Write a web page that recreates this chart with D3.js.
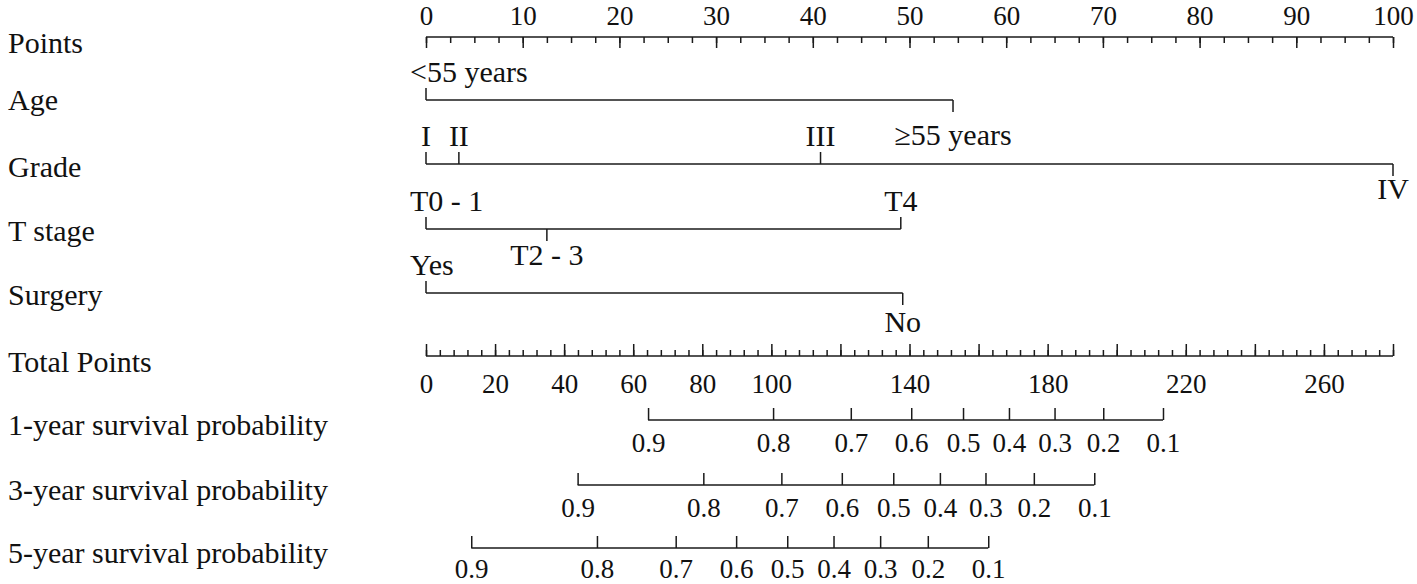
<!DOCTYPE html>
<html>
<head>
<meta charset="utf-8">
<script src="https://cdn.jsdelivr.net/npm/d3@7/dist/d3.min.js"></script>
<style>
  html, body { margin: 0; padding: 0; background: #fff; }
  svg text { font-family: "Liberation Serif", "Times New Roman", serif; fill: #111; }
</style>
</head>
<body>
<svg id="chart" width="1417" height="584"></svg>
<script>
// ---------------- DATA ----------------
const rowLabels = ["Points", "Age", "Grade", "T stage", "Surgery", "Total Points",
  "1-year survival probability", "3-year survival probability", "5-year survival probability"];

const pointsDomain = [0, 100];
const pointsLabelTicks = [0, 10, 20, 30, 40, 50, 60, 70, 80, 90, 100];

const ageLevels = ["<55 years", "≥55 years"];
const agePoints = [0, 54.5];

const gradeLevels = ["I", "II", "III", "IV"];
const gradePoints = [0, 3.4, 40.8, 100];

const tLevels = ["T0 - 1", "T2 - 3", "T4"];
const tPoints = [0, 12.5, 49.1];

const surgeryLevels = ["Yes", "No"];
const surgeryPoints = [0, 49.3];

const totalDomain = [0, 280];
const totalLabelTicks = [0, 20, 40, 60, 80, 100, 140, 180, 220, 260];

const probLabels = ["0.9", "0.8", "0.7", "0.6", "0.5", "0.4", "0.3", "0.2", "0.1"];
const surv1Total = [64.3, 100.5, 123.0, 140.5, 155.5, 168.8, 182.0, 196.1, 213.4];
const surv3Total = [43.9, 80.3, 102.9, 120.4, 135.3, 148.8, 162.0, 176.0, 193.5];
const surv5Total = [13.1, 49.5, 72.3, 89.8, 104.6, 118.0, 131.5, 145.3, 162.8];

// ---------------- LAYOUT ----------------
const svg = d3.select("#chart");
const X0 = 426, X1 = 1393;
const xPts = d3.scaleLinear().domain(pointsDomain).range([X0, X1]);
const xTot = d3.scaleLinear().domain(totalDomain).range([X0, X1]);
const STROKE = "#1a1a1a", SW = 1.5;
const TICK_FS = 27, ROW_FS = 30, LEVEL_FS = 30;

const lineY = [37, 100, 164, 229, 293, 356, 420, 485, 548];
const rowLabelY = [53, 110, 177, 241, 305, 372, 435, 500, 563];
const probLabelOff = [32, 32, 30];

// row labels
svg.append("g").selectAll("text").data(rowLabels).join("text")
  .attr("x", 8).attr("y", (d, i) => rowLabelY[i])
  .attr("font-size", ROW_FS).text(d => d);

function styleAxis(g) {
  g.attr("font-family", null).attr("font-size", null);
  g.selectAll("line").attr("stroke", STROKE).attr("stroke-width", SW);
  g.selectAll("path.domain").attr("stroke", STROKE).attr("stroke-width", SW);
  g.selectAll("text").attr("font-size", TICK_FS).attr("fill", "#111");
}

// ---- Points axis (ticks downward, labels above)
const ptsMinor = svg.append("g").attr("transform", `translate(0,${lineY[0]})`)
  .call(d3.axisTop(xPts).tickValues(d3.range(0, 100.01, 2.5)).tickSize(-6).tickSizeOuter(0).tickFormat(""));
ptsMinor.select(".domain").remove();
ptsMinor.selectAll("text").remove();
const ptsMajor = svg.append("g").attr("transform", `translate(0,${lineY[0]})`)
  .call(d3.axisTop(xPts).tickValues(pointsLabelTicks).tickSize(-11).tickSizeOuter(0));
ptsMajor.select(".domain").remove();
ptsMajor.selectAll("text").attr("y", -12).attr("dy", 0);
svg.append("line").attr("x1", xPts(0)).attr("x2", xPts(100)).attr("y1", lineY[0]).attr("y2", lineY[0])
  .attr("stroke", STROKE).attr("stroke-width", SW);
styleAxis(ptsMinor); styleAxis(ptsMajor);

// ---- Categorical predictors
const predictors = [
  { levels: ageLevels, pts: agePoints, row: 1, side: [-1, 1], belowOff: 45 },
  { levels: gradeLevels, pts: gradePoints, row: 2, side: [-1, -1, -1, 1], belowOff: 35 },
  { levels: tLevels, pts: tPoints, row: 3, side: [-1, 1, -1], belowOff: 36 },
  { levels: surgeryLevels, pts: surgeryPoints, row: 4, side: [-1, 1], belowOff: 39 }
];
const TL = 12;
predictors.forEach(p => {
  const y = lineY[p.row];
  const g = svg.append("g");
  g.append("line").attr("x1", xPts(d3.min(p.pts))).attr("x2", xPts(d3.max(p.pts)))
    .attr("y1", y).attr("y2", y).attr("stroke", STROKE).attr("stroke-width", SW);
  p.levels.forEach((lev, i) => {
    const x = xPts(p.pts[i]);
    const s = p.side[i];
    g.append("line").attr("x1", x).attr("x2", x).attr("y1", y).attr("y2", y + s * TL)
      .attr("stroke", STROKE).attr("stroke-width", SW);
    const t = g.append("text").attr("font-size", LEVEL_FS)
      .attr("y", s < 0 ? y - 18 : y + p.belowOff).text(lev);
    const w = t.node().getComputedTextLength();
    const left = Math.max(x - w / 2, X0 - 16);
    t.attr("x", left);
  });
});

// ---- Total points axis (ticks upward, labels below)
const totMinor = svg.append("g").attr("transform", `translate(0,${lineY[5]})`)
  .call(d3.axisBottom(xTot).tickValues(d3.range(0, 280.01, 4)).tickSize(-6).tickSizeOuter(0).tickFormat(""));
totMinor.select(".domain").remove();
totMinor.selectAll("text").remove();
const totMajor = svg.append("g").attr("transform", `translate(0,${lineY[5]})`)
  .call(d3.axisBottom(xTot).tickValues(d3.range(0, 280.01, 20)).tickSize(-12).tickSizeOuter(0)
    .tickFormat(d => totalLabelTicks.includes(d) ? d : ""));
totMajor.select(".domain").remove();
totMajor.selectAll("text").filter(function () { return this.textContent === ""; }).remove();
totMajor.selectAll("text").attr("y", 37).attr("dy", 0);
svg.append("line").attr("x1", xTot(0)).attr("x2", xTot(280)).attr("y1", lineY[5]).attr("y2", lineY[5])
  .attr("stroke", STROKE).attr("stroke-width", SW);
styleAxis(totMinor); styleAxis(totMajor);

// ---- Survival probability axes
[[surv1Total, 6], [surv3Total, 7], [surv5Total, 8]].forEach(([vals, row], k) => {
  const y = lineY[row];
  const g = svg.append("g").attr("transform", `translate(0,${y})`)
    .call(d3.axisBottom(xTot).tickValues(vals).tickSize(-12).tickSizeOuter(0)
      .tickFormat((d, i) => probLabels[i]));
  g.select(".domain").remove();
  g.selectAll("text").attr("y", probLabelOff[k]).attr("dy", 0);
  svg.append("line").attr("x1", xTot(d3.min(vals))).attr("x2", xTot(d3.max(vals)))
    .attr("y1", y).attr("y2", y).attr("stroke", STROKE).attr("stroke-width", SW);
  styleAxis(g);
});
</script>
</body>
</html>
